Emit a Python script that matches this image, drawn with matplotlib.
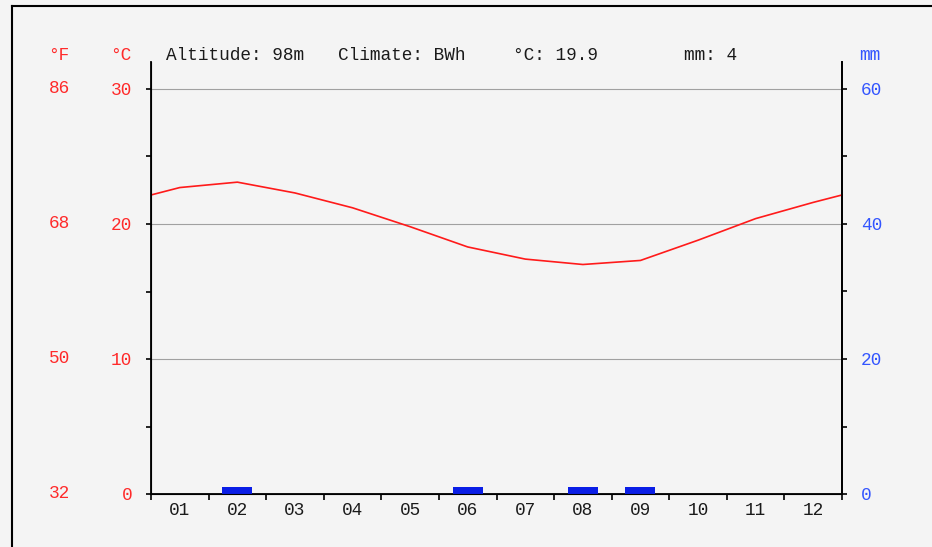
import matplotlib
matplotlib.use("Agg")
import matplotlib.pyplot as plt
from matplotlib.lines import Line2D
from matplotlib.transforms import blended_transform_factory

# climate data
months = ["01", "02", "03", "04", "05", "06", "07", "08", "09", "10", "11", "12"]
temp_c = [22.7, 23.1, 22.3, 21.2, 19.8, 18.3, 17.4, 17.0, 17.3, 18.8, 20.4, 21.6]
precip_mm = [0, 1, 0, 0, 0, 1, 0, 1, 1, 0, 0, 0]
c_ticks = [0, 10, 20, 30]
f_labels = ["32", "50", "68", "86"]
mm_ticks = [0, 20, 40, 60]
header = [("Altitude: 98m", 166), ("Climate: BWh", 338), ("°C: 19.9", 513), ("mm: 4", 684)]

W, H = 932, 547
mono = "Liberation Mono"
red = "#ff2a2a"
blue = "#3355ff"
fs = 12.8

fig = plt.figure(figsize=(W / 100, H / 100), dpi=100)
fig.patch.set_facecolor("#f4f4f4")

# frame (left and top edges)
fig.add_artist(Line2D([12 / W, 12 / W], [0, 1 - 6 / H], transform=fig.transFigure, color="black", lw=1.5))
fig.add_artist(Line2D([12 / W, 1], [1 - 6 / H, 1 - 6 / H], transform=fig.transFigure, color="black", lw=1.5))

left, right, bottom, top = 151, 842, 494, 62
ax = fig.add_axes([left / W, 1 - bottom / H, (right - left) / W, (bottom - top) / H])
ax.set_facecolor("none")
ax.set_xlim(0, 12)
ax.set_ylim(0, 32)

# temperature line, wrapped at the year edges
edge = (temp_c[0] + temp_c[-1]) / 2
xs = [0] + [i + 0.5 for i in range(12)] + [12]
ys = [edge] + temp_c + [edge]
ax.plot(xs, ys, color="#ff1a1a", lw=1.2, zorder=3)

for v in c_ticks[1:]:
    ax.axhline(v, color="#a0a0a0", lw=0.8, zorder=1)

ax.spines["top"].set_visible(False)
for s in ["left", "right", "bottom"]:
    ax.spines[s].set_linewidth(1.3)

ax.set_xticks(range(13))
ax.set_xticks([i + 0.5 for i in range(12)], minor=True)
ax.set_xticklabels([""] * 13)
ax.set_xticklabels(months, minor=True, fontfamily=mono, fontsize=fs, color="#1a1a1a")
ax.tick_params(axis="x", which="major", direction="out", length=4, width=1.2)
ax.tick_params(axis="x", which="minor", length=0, pad=6)

ax.set_yticks(c_ticks)
ax.set_yticks([5, 15, 25], minor=True)
ax.set_yticklabels([str(v) for v in c_ticks], fontfamily=mono, fontsize=fs, color=red)
ax.tick_params(axis="y", which="both", direction="out", length=3.5, width=1.2, pad=10)

# precipitation on a twin axis
ax2 = ax.twinx()
ax2.set_ylim(0, 64)
ax2.bar([i + 0.5 for i in range(12)], precip_mm, width=0.52, color="#0a1ee6", zorder=2)
ax2.spines["top"].set_visible(False)
ax2.spines["right"].set_linewidth(1.3)
ax2.set_yticks(mm_ticks)
ax2.set_yticks([10, 30, 50], minor=True)
ax2.set_yticklabels([str(v) for v in mm_ticks], fontfamily=mono, fontsize=fs, color=blue)
ax2.tick_params(axis="y", which="both", direction="out", length=3.5, width=1.2, pad=10)

# Fahrenheit labels
trans = blended_transform_factory(fig.transFigure, ax.transData)
for c, f in zip(c_ticks, f_labels):
    ax.text(70 / W, c, f, transform=trans, ha="right", va="center",
            fontfamily=mono, fontsize=fs, color=red)

# unit labels and header
ty = 1 - 55 / H
fig.text(59 / W, ty, "°F", ha="center", va="center", fontfamily=mono, fontsize=fs, color=red)
fig.text(121 / W, ty, "°C", ha="center", va="center", fontfamily=mono, fontsize=fs, color=red)
fig.text(870 / W, ty, "mm", ha="center", va="center", fontfamily=mono, fontsize=fs, color=blue)
for txt, x in header:
    fig.text(x / W, ty, txt, ha="left", va="center", fontfamily=mono, fontsize=fs, color="#1a1a1a")

fig.savefig("out.png", dpi=100, facecolor=fig.get_facecolor())
